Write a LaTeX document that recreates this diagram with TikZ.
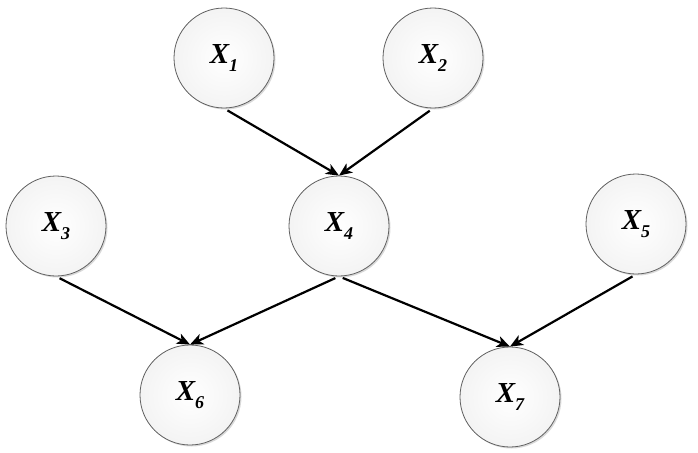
\documentclass[tikz,border=0pt]{standalone}
\usepackage{fontspec}
\setmainfont{Liberation Serif}
\usetikzlibrary{arrows.meta,shadows}
\newcommand{\varx}[1]{\fontsize{29}{32}\selectfont\bfseries\itshape X\raisebox{-0.3em}{\fontsize{18}{18}\selectfont #1}}
\tikzset{
  var/.style={circle,minimum size=100pt,inner sep=0pt,draw=gray!75!black,line width=0.8pt,
    inner color=white,outer color=gray!9,
    drop shadow={shadow xshift=1.5pt,shadow yshift=-1.5pt,opacity=0.3,fill=gray}},
  edge/.style={line width=2.2pt,-{Stealth[length=13pt,width=11pt,inset=3.5pt]},shorten <=4pt}
}
\begin{document}
\begin{tikzpicture}[x=1pt,y=-1pt]
\useasboundingbox (0,0) rectangle (698,452);
\node[var] (x1) at (224,58) {\varx{1}};
\node[var] (x2) at (433,58) {\varx{2}};
\node[var] (x3) at (56,226) {\varx{3}};
\node[var] (x4) at (339,226) {\varx{4}};
\node[var] (x5) at (636,224) {\varx{5}};
\node[var] (x6) at (190,395) {\varx{6}};
\node[var] (x7) at (510,397) {\varx{7}};
\draw[edge] (x1.south) -- (x4.north);
\draw[edge] (x2.south) -- (x4.north);
\draw[edge] (x3.south) -- (x6.north);
\draw[edge] (x4.south) -- (x6.north);
\draw[edge] (x4.south) -- (x7.north);
\draw[edge] (x5.south) -- (x7.north);
\end{tikzpicture}
\end{document}
